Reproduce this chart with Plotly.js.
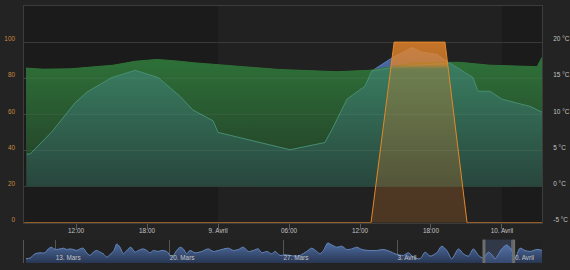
<!DOCTYPE html>
<html><head><meta charset="utf-8">
<script src="https://cdn.plot.ly/plotly-3.0.1.min.js"></script>
<style>html,body{margin:0;padding:0;background:#232323;}#c{width:570px;height:270px;}</style>
</head><body><div id="c"></div>
<script>
// ---- data ----
const greenTimes = ['2017-04-08 07:46','2017-04-08 09:13','2017-04-08 11:30','2017-04-08 15:08','2017-04-08 17:00','2017-04-08 18:51','2017-04-08 20:47','2017-04-08 21:53','2017-04-09 02:07','2017-04-09 05:14','2017-04-09 10:03','2017-04-09 12:51','2017-04-09 14:47','2017-04-09 16:29','2017-04-09 18:31','2017-04-09 20:27','2017-04-09 22:59','2017-04-10 02:58','2017-04-10 03:23'];
const greenTemp = [16.4,16.25,16.3,16.8,17.35,17.6,17.35,17.15,16.6,16.2,15.9,16.1,16.6,17.1,17.2,17.2,16.8,16.6,17.9];

const tealTimes = ['2017-04-08 07:50','2017-04-08 08:07','2017-04-08 09:58','2017-04-08 11:55','2017-04-08 12:56','2017-04-08 15:02','2017-04-08 17:00','2017-04-08 18:56','2017-04-08 20:47','2017-04-08 21:53','2017-04-08 23:35','2017-04-09 00:00','2017-04-09 06:05','2017-04-09 09:02','2017-04-09 09:38','2017-04-09 10:54','2017-04-09 12:25','2017-04-09 13:00','2017-04-09 13:41','2017-04-09 14:47','2017-04-09 16:29','2017-04-09 18:31','2017-04-09 19:36','2017-04-09 21:33','2017-04-09 21:58','2017-04-09 22:59','2017-04-10 00:00','2017-04-10 02:22','2017-04-10 03:23'];
const tealTemp = [4.5,4.5,7.6,11.6,13.1,15.1,16.1,15.1,12.5,10.6,9.1,7.5,5.1,6.1,7.9,12.1,13.9,16.0,16.2,16.5,16.8,17.0,17.1,15.1,13.2,13.2,12.1,11.1,10.3];

const blueTimes = ['2017-04-09 10:54','2017-04-09 12:25','2017-04-09 13:00','2017-04-09 14:47','2017-04-09 16:24','2017-04-09 17:15','2017-04-09 18:31','2017-04-09 19:27','2017-04-09 20:07','2017-04-09 21:33'];
const blueTemp = [12.0,13.8,16.0,17.9,19.25,18.6,18.3,17.2,16.0,14.5];

const orangeTimes = ['2017-04-08 07:38','2017-04-09 12:56','2017-04-09 14:53','2017-04-09 19:11','2017-04-09 21:03','2017-04-10 03:23'];
const orangeVal = [0,0,100,100,0,0];

const xTickVals = ['2017-04-08 12:00','2017-04-08 18:00','2017-04-09 00:00','2017-04-09 06:00','2017-04-09 12:00','2017-04-09 18:00','2017-04-10 00:00'];
const xTickText = ['12:00','18:00','9. Avril','06:00','12:00','18:00','10. Avril'];
const leftTicks = [0,20,40,60,80,100];
const rightTicks = [-5,0,5,10,15,20];
const rightTickText = ['-5 °C','0 °C','5 °C','10 °C','15 °C','20 °C'];

// navigator: outdoor temperature, days since 2017-03-11 00:00
const navDay = [0.17,0.42,0.73,1.03,1.34,1.54,1.75,1.89,2.06,2.26,2.47,2.67,2.88,3.08,3.29,3.49,3.69,3.9,4.11,4.31,4.52,4.72,4.92,5.13,5.33,5.58,5.75,5.95,6.15,6.36,6.61,6.87,7.07,7.38,7.59,7.79,8.0,8.3,8.51,8.82,9.13,9.43,9.64,9.84,10.05,10.25,10.56,10.97,11.38,11.68,11.99,12.61,12.91,13.22,13.53,13.84,14.14,14.45,14.66,14.97,15.27,15.48,15.78,16.09,16.4,16.71,17.01,17.42,17.73,18.04,18.24,18.45,18.72,18.96,19.27,19.58,19.88,20.19,20.5,20.81,21.21,21.73,22.13,22.54,22.85,23.36,23.67,23.98,24.39,24.7,25.0,25.41,25.72,26.03,26.34,26.75,27.05,27.36,27.67,27.98,28.28,28.59,28.8,29.0,29.41,29.72,30.03,30.23,30.53,30.84,31.15,31.56,31.93];
const navVal = [4.3,5.0,9.3,10.3,10.3,14.3,16,14.3,13.7,14.3,15,13.7,14.3,13.7,12.7,14.3,15,10.3,7.7,11,12.7,11,9.3,6,8.3,12.7,19.3,16,9.3,12.7,16,11,12.7,14.3,12.7,10.3,12.7,11.7,12.7,11.7,6,12.7,16,14.3,9.3,12.7,10.3,11.7,14.3,11.7,12.7,15,12.7,13.7,16,11.7,12.7,14.3,10.3,11.7,9.3,11.7,7.7,8.3,7.7,7,7.7,11.7,15,11.7,9.3,12.7,20.3,18.3,16,17,13.7,14.3,16,13.7,12.7,12.7,13.7,11.7,9.3,7.7,10.3,6,4.3,11,7,10.3,17,12.7,4.3,14.3,9.3,7,14.3,7.7,5,11,8.3,4.3,14.3,18.3,12.7,4.3,15,12.7,11.7,13.7,12.7];
const navTickVals = ['2017-03-13','2017-03-20','2017-03-27','2017-04-03','2017-04-10'];
const navTickText = ['13. Mars','20. Mars','27. Mars','3. Avril','10. Avril'];

const mainRange = ['2017-04-08 07:36','2017-04-10 03:23'];
const navRange = ['2017-03-11 01:11','2017-04-11 21:12'];

// ---- helpers ----
function fmt(ms){return new Date(ms).toISOString().slice(0,19).replace('T',' ');}
function ms(s){return Date.parse(s.replace(' ','T')+'Z');}
const navBase = Date.UTC(2017,2,11);
const navTimes = navDay.map(d => fmt(navBase + d*86400000));

const OR = 'rgba(228,132,42,';
const traces = [
  {x: blueTimes, y: blueTemp, xaxis:'x', yaxis:'y', type:'scatter', mode:'lines', fill:'tozeroy',
   line:{color:'rgb(90,128,188)', width:1},
   fillgradient:{type:'vertical', start:0, stop:19.3, colorscale:[[0,'rgb(45,65,100)'],[1,'rgb(76,108,165)']]}, hoverinfo:'skip'},
  {x: greenTimes, y: greenTemp, xaxis:'x', yaxis:'y', type:'scatter', mode:'lines', fill:'tozeroy',
   line:{color:'rgb(47,114,56)', width:1},
   fillgradient:{type:'vertical', start:0, stop:17.6, colorscale:[[0,'rgb(34,58,38)'],[1,'rgb(46,112,56)']]}, hoverinfo:'skip'},
  {x: tealTimes, y: tealTemp, xaxis:'x', yaxis:'y', type:'scatter', mode:'lines', fill:'tozeroy',
   line:{color:'rgb(72,142,112)', width:1},
   fillgradient:{type:'vertical', start:0, stop:16.5, colorscale:[[0,'rgb(40,70,61)'],[1,'rgb(57,124,96)']]}, hoverinfo:'skip'},
  {x: orangeTimes, y: orangeVal, xaxis:'x', yaxis:'y2', type:'scatter', mode:'lines', fill:'tozeroy',
   line:{color:'rgb(228,135,40)', width:1},
   fillgradient:{type:'vertical', start:0, stop:100, colorscale:[[0,OR+'0.22)'],[0.17,OR+'0.23)'],[0.5,OR+'0.27)'],[0.85,OR+'0.31)'],[0.875,OR+'0.76)'],[1,OR+'0.84)']]}, hoverinfo:'skip'},
  {x: navTimes, y: navVal, xaxis:'x2', yaxis:'y3', type:'scatter', mode:'lines', fill:'tozeroy',
   line:{color:'rgb(100,135,190)', width:1, shape:'spline', smoothing:0.8},
   fillgradient:{type:'vertical', start:0, stop:20, colorscale:[[0,'rgb(40,54,82)'],[1,'rgb(78,108,160)']]}, hoverinfo:'skip'}
];

const H = 2.2*3600000;
const mainDom = [ (263-222.7)/257, 1 ];
const navDom = [0, 23.4/257];
const shapes = [
  {type:'rect', xref:'x', yref:'paper', x0:mainRange[0], x1:'2017-04-09 00:00', y0:mainDom[0], y1:1, fillcolor:'rgba(0,0,0,0.16)', line:{width:0}, layer:'below'},
  {type:'rect', xref:'x', yref:'paper', x0:'2017-04-10 00:00', x1:mainRange[1], y0:mainDom[0], y1:1, fillcolor:'rgba(0,0,0,0.16)', line:{width:0}, layer:'below'},
  ...[5,10,15].map(v => ({type:'line', xref:'paper', yref:'y', x0:0, x1:1, y0:v, y1:v, line:{color:'rgba(255,255,255,0.06)', width:1}, layer:'above'})),
  {type:'rect', xref:'x2', yref:'paper', x0:mainRange[0], x1:mainRange[1], y0:navDom[0], y1:navDom[1], fillcolor:'rgba(110,140,210,0.22)', line:{width:0}, layer:'above'},
  {type:'rect', xref:'x2', yref:'paper', x0:fmt(ms(mainRange[0])-H), x1:fmt(ms(mainRange[0])+H), y0:navDom[0], y1:navDom[1], fillcolor:'#6e6e6e', line:{width:0}, layer:'above'},
  {type:'rect', xref:'x2', yref:'paper', x0:fmt(ms(mainRange[1])-H), x1:fmt(ms(mainRange[1])+H), y0:navDom[0], y1:navDom[1], fillcolor:'#6e6e6e', line:{width:0}, layer:'above'}
];

const tf = {family:'Liberation Sans, Arial, sans-serif', size:6.4, color:'#c4c4c4'};
const layout = {
  width:570, height:270,
  margin:{l:24, r:28, t:6, b:7, pad:0},
  paper_bgcolor:'#232323', plot_bgcolor:'#212121',
  showlegend:false, hovermode:false,
  font:tf,
  xaxis:{type:'date', domain:[0,1], anchor:'y', range:mainRange, tickmode:'array', tickvals:xTickVals, ticktext:xTickText,
         ticks:'outside', ticklen:5, tickcolor:'#5a5a5a', tickwidth:1, showgrid:false, zeroline:false,
         showline:true, mirror:true, linecolor:'#3c3c3c', linewidth:1, tickfont:tf, ticklabelstandoff:-3},
  yaxis:{domain:mainDom, anchor:'x', side:'right', range:[-5,25], tickmode:'array', tickvals:rightTicks, ticktext:rightTickText,
         showgrid:true, gridcolor:'#3a3a3a', gridwidth:1, zeroline:false, showline:true, mirror:true, linecolor:'#3c3c3c',
         ticks:'', ticklabelstandoff:9, ticklabelshift:-3, tickfont:tf},
  yaxis2:{overlaying:'y', side:'left', anchor:'x', range:[0,120], tickmode:'array', tickvals:leftTicks,
          showgrid:false, zeroline:false, showline:false, ticks:'', ticklabelstandoff:8, ticklabelshift:-3,
          tickfont:{family:tf.family, size:6.4, color:'#c98a3e'}},
  xaxis2:{type:'date', domain:[0,1], anchor:'y3', range:navRange, tickmode:'array', tickvals:navTickVals, ticktext:navTickText,
          ticks:'', ticklabelposition:'inside right', ticklabelstandoff:-4, showgrid:true, gridcolor:'#555555', zeroline:false, showline:false, tickfont:tf},
  yaxis3:{domain:navDom, anchor:'x2', range:[0,23.7], showgrid:false, zeroline:false, showticklabels:false, ticks:'',
          showline:true, linecolor:'#555555'},
  shapes: shapes
};
Plotly.newPlot('c', traces, layout, {staticPlot:true, displayModeBar:false});
</script></body></html>
